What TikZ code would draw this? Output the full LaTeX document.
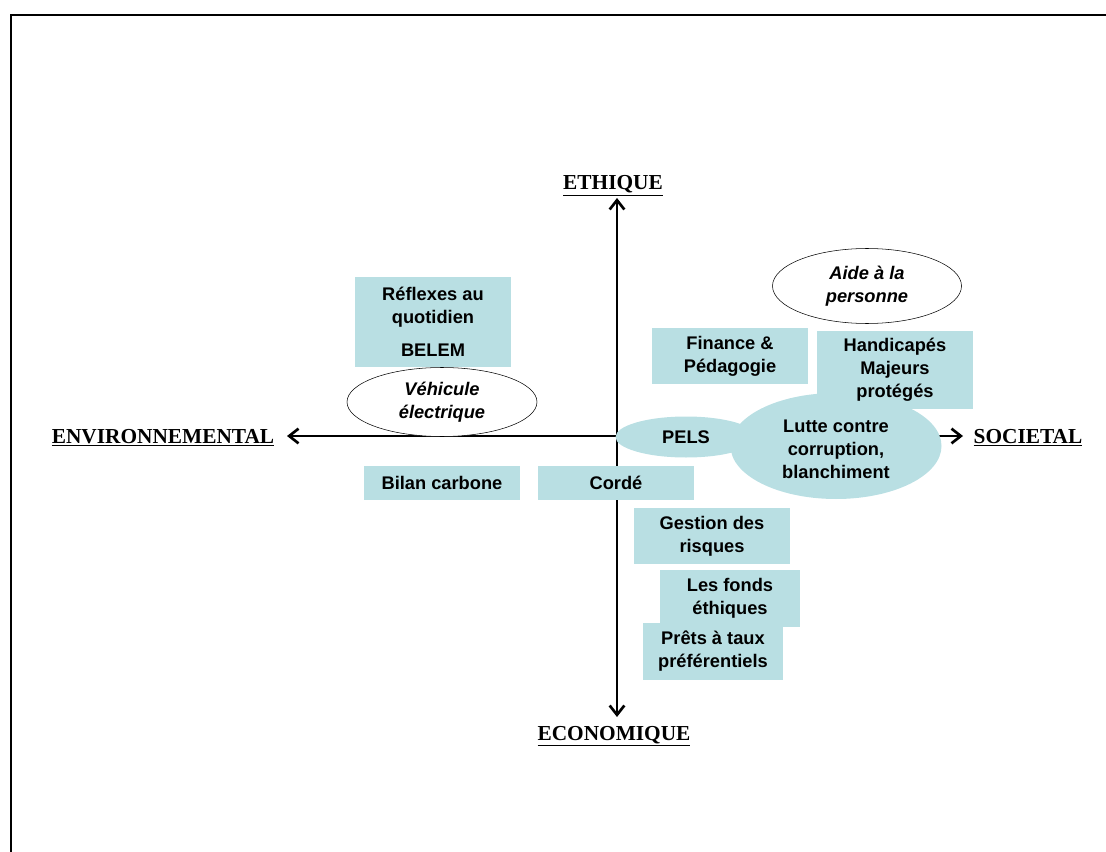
\documentclass[tikz,border=0pt]{standalone}
\usepackage{fontspec}
\setmainfont{Liberation Serif}
\newfontfamily\boxfont{Liberation Sans}
\usepackage{tikz}
\usetikzlibrary{shapes.geometric, arrows.meta}
\definecolor{PaleTeal}{RGB}{185, 223, 227}
\definecolor{InkBlack}{RGB}{0, 0, 0}
\tikzset{
  boite/.style={rectangle, fill=PaleTeal, inner sep=0pt, align=center,
    font=\boxfont\bfseries\fontsize{13.7}{17.25}\selectfont, text=InkBlack},
  bulle/.style={ellipse, fill=PaleTeal, inner sep=0pt, align=center,
    font=\boxfont\bfseries\fontsize{13.7}{17.25}\selectfont, text=InkBlack},
  projet/.style={ellipse, draw=InkBlack, thin, fill=white, inner sep=0pt,
    align=center, font=\boxfont\bfseries\itshape\fontsize{13.7}{17.25}\selectfont},
  axe/.style={-{Straight Barb[length=7pt, width=11pt, line width=2pt]},
    line width=1.8pt},
  pole/.style={font=\bfseries\fontsize{16}{19}\selectfont},
  cadre/.style={line width=1.5pt},
}
\begin{document}
\begin{tikzpicture}[x=0.75pt, y=-0.75pt]
  \useasboundingbox (0,0) rectangle (1106,852);
  \draw[cadre] (1106,15) -- (11,15) -- (11,852);
  % axes
  \coordinate (O) at (617,436);
  \coordinate (haut) at (617,198);
  \coordinate (bas) at (617,717);
  \coordinate (gauche) at (287,436);
  \coordinate (droite) at (963,436);
  \draw[axe] (O) -- (haut);
  \draw[axe] (O) -- (bas);
  \draw[axe] (O) -- (gauche);
  \draw[axe] (O) -- (droite);
  \node[pole] (ethique) at (613,186) {\underline{ETHIQUE}};
  \node[pole] (economique) at (614,736) {\underline{ECONOMIQUE}};
  \node[pole] (environ) at (163,438) {\underline{ENVIRONNEMENTAL}};
  \node[pole] (societal) at (1028,438) {\underline{SOCIETAL}};
  % actions
  \node[boite, minimum width=117pt, minimum height=67.5pt] (reflexes)
    at (433,322) {R\'eflexes au\\quotidien\\[7.5pt]BELEM};
  \node[projet, minimum width=142.5pt, minimum height=51.75pt] (vehicule)
    at (442,402) {V\'ehicule\\\'electrique};
  \node[projet, minimum width=141.75pt, minimum height=56.25pt] (aide)
    at (867,286) {Aide \`a la\\personne};
  \node[boite, minimum width=117pt, minimum height=42pt] (finance)
    at (730,356) {Finance \&\\P\'edagogie};
  \node[bulle, minimum width=158.25pt, minimum height=79.5pt] (lutte)
    at (836,446) {};
  \node[boite, minimum width=117pt, minimum height=58.5pt] (handicap)
    at (895,370) {Handicap\'es\\Majeurs\\prot\'eg\'es};
  \node[bulle, minimum width=105.75pt, minimum height=30.75pt] (pels)
    at (686,437) {PELS};
  \node[boite, fill=none, yshift=-2.25pt] (luttetxt) at (lutte)
    {Lutte contre\\corruption,\\blanchiment};
  \node[boite, minimum width=117pt, minimum height=25.5pt] (bilan)
    at (442,483) {Bilan carbone};
  \node[boite, minimum width=117pt, minimum height=25.5pt] (corde)
    at (616,483) {Cord\'e};
  \node[boite, minimum width=117pt, minimum height=42pt] (gestion)
    at (712,536) {Gestion des\\risques};
  \node[boite, minimum width=105pt, minimum height=42.75pt] (fonds)
    at (730,598.5) {Les fonds\\\'ethiques};
  \node[boite, minimum width=105pt, minimum height=42.75pt] (prets)
    at (713,651.5) {Pr\^ets \`a taux\\pr\'ef\'erentiels};
\end{tikzpicture}
\end{document}
